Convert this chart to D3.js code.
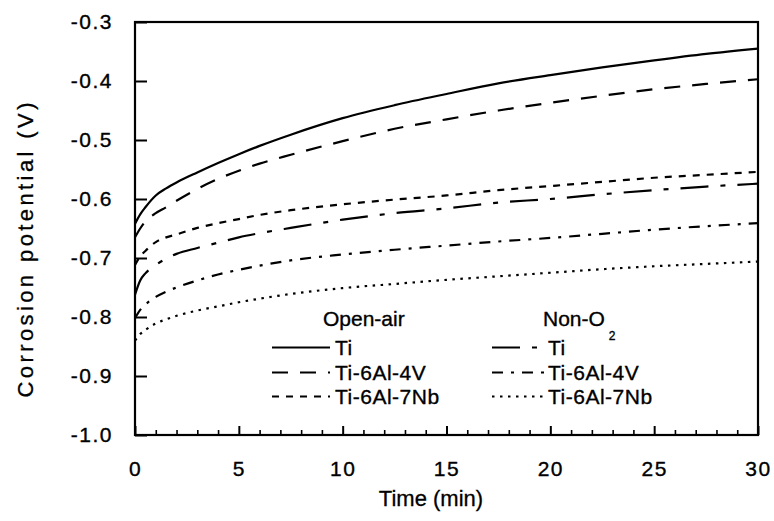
<!DOCTYPE html>
<html>
<head>
<meta charset="utf-8">
<script src="https://cdn.jsdelivr.net/npm/d3@7"></script>
<style>
  html, body { margin: 0; padding: 0; background: #fff; }
  svg { display: block; font-family: "Liberation Sans", Arial, Helvetica, sans-serif; }
</style>
</head>
<body>
<svg id="chart" width="774" height="521"></svg>
<script>
// Sampling times (min), shared by every curve
const time = [0, 0.25, 0.5, 1, 1.5, 2, 3, 4, 5, 6, 7.5, 10, 12.5, 15, 17.5, 20, 22.5, 25, 27.5, 30];

// Corrosion potential (V), open-air
const tiOpenAir      = [-0.642, -0.626, -0.614, -0.594, -0.582, -0.572, -0.555, -0.539, -0.524, -0.510, -0.491, -0.463, -0.441, -0.422, -0.404, -0.390, -0.377, -0.365, -0.354, -0.345];
const ti6al4vOpenAir = [-0.665, -0.650, -0.638, -0.624, -0.614, -0.603, -0.583, -0.566, -0.552, -0.540, -0.525, -0.502, -0.481, -0.465, -0.450, -0.437, -0.425, -0.414, -0.405, -0.397];
const ti6al7nbOpenAir= [-0.712, -0.697, -0.688, -0.673, -0.665, -0.660, -0.649, -0.641, -0.634, -0.627, -0.619, -0.609, -0.601, -0.594, -0.585, -0.578, -0.571, -0.564, -0.559, -0.554];

// Corrosion potential (V), non-O2
const tiNonO2        = [-0.762, -0.738, -0.726, -0.712, -0.701, -0.693, -0.683, -0.674, -0.665, -0.658, -0.649, -0.635, -0.624, -0.616, -0.606, -0.600, -0.592, -0.585, -0.579, -0.574];
const ti6al4vNonO2   = [-0.802, -0.788, -0.779, -0.766, -0.757, -0.750, -0.738, -0.728, -0.720, -0.713, -0.704, -0.694, -0.686, -0.679, -0.672, -0.666, -0.659, -0.652, -0.646, -0.641];
const ti6al7nbNonO2  = [-0.840, -0.829, -0.822, -0.811, -0.804, -0.798, -0.789, -0.782, -0.775, -0.769, -0.761, -0.751, -0.744, -0.737, -0.731, -0.725, -0.719, -0.714, -0.710, -0.706];

const alloyNames = ["Ti", "Ti-6Al-4V", "Ti-6Al-7Nb"];
const groupNames = ["Open-air", "Non-O"];

const xTicks = [0, 5, 10, 15, 20, 25, 30];
const xTickLabels = ["0", "5", "10", "15", "20", "25", "30"];
const yTicks = [-1.0, -0.9, -0.8, -0.7, -0.6, -0.5, -0.4, -0.3];
const yTickLabels = ["-1.0", "-0.9", "-0.8", "-0.7", "-0.6", "-0.5", "-0.4", "-0.3"];

// ---- layout ----
const svgW = 774, svgH = 521;
const margin = { left: 135, right: 16, top: 22, bottom: 86 };
const W = svgW - margin.left - margin.right;
const H = svgH - margin.top - margin.bottom;

const svg = d3.select("#chart");
svg.append("rect").attr("width", svgW).attr("height", svgH).attr("fill", "#fff");
const g = svg.append("g").attr("transform", `translate(${margin.left},${margin.top})`);

const x = d3.scaleLinear().domain([0, 30]).range([0, W]);
const y = d3.scaleLinear().domain([-1.0, -0.3]).range([H, 0]);

// ---- axes (ticks point into the plot) ----
const labelStyle = sel => sel.selectAll("text")
  .attr("font-size", 21)
  .attr("fill", "#000")
  .attr("stroke", "#000")
  .attr("stroke-width", 0.35)
  .style("letter-spacing", "1.5px")
  .style("font-family", '"Liberation Sans", Arial, Helvetica, sans-serif');

const xAxis = g.append("g")
  .attr("transform", `translate(0,${H})`)
  .call(d3.axisBottom(x).tickValues(xTicks).tickFormat((d, i) => xTickLabels[i])
    .tickSizeInner(-9).tickSizeOuter(0).tickPadding(26));
xAxis.select(".domain").remove();
xAxis.selectAll("line").attr("stroke", "#000").attr("stroke-width", 2);
labelStyle(xAxis);

const minorTicks = d3.range(0, 31).filter(v => v % 5 !== 0);
const xMinor = g.append("g")
  .attr("transform", `translate(0,${H})`)
  .call(d3.axisBottom(x).tickValues(minorTicks).tickFormat("").tickSizeInner(-5).tickSizeOuter(0));
xMinor.select(".domain").remove();
xMinor.selectAll("line").attr("stroke", "#000").attr("stroke-width", 1.6);

const yAxis = g.append("g")
  .call(d3.axisLeft(y).tickValues(yTicks).tickFormat((d, i) => yTickLabels[i])
    .tickSizeInner(-12).tickSizeOuter(0).tickPadding(22));
yAxis.select(".domain").remove();
yAxis.selectAll("line").attr("stroke", "#000").attr("stroke-width", 2);
labelStyle(yAxis);

// plot frame
g.append("rect")
  .attr("x", 0).attr("y", 0).attr("width", W).attr("height", H)
  .attr("fill", "none").attr("stroke", "#000").attr("stroke-width", 2.2);

// ---- axis titles ----
svg.append("text")
  .attr("transform", "translate(33,250) rotate(-90)")
  .attr("text-anchor", "middle")
  .attr("font-size", 22)
  .attr("textLength", 295)
  .attr("lengthAdjust", "spacing")
  .attr("stroke", "#000").attr("stroke-width", 0.3)
  .text("Corrosion potential (V)");

svg.append("text")
  .attr("x", 431).attr("y", 506)
  .attr("text-anchor", "middle")
  .attr("font-size", 22)
  .attr("stroke", "#000").attr("stroke-width", 0.3)
  .text("Time (min)");

// ---- curves ----
const series = [
  { values: tiOpenAir,       dash: null },
  { values: ti6al4vOpenAir,  dash: "16,12" },
  { values: ti6al7nbOpenAir, dash: "7,7" },
  { values: tiNonO2,         dash: "28,12,5,12" },
  { values: ti6al4vNonO2,    dash: "11,8,3,8" },
  { values: ti6al7nbNonO2,   dash: "2.5,5.5" }
];

const line = d3.line()
  .x(d => x(d[0]))
  .y(d => y(d[1]))
  .curve(d3.curveMonotoneX);

g.selectAll("path.curve")
  .data(series)
  .enter().append("path")
  .attr("class", "curve")
  .attr("d", s => line(time.map((t, i) => [t, s.values[i]])))
  .attr("fill", "none")
  .attr("stroke", "#000")
  .attr("stroke-width", 2.2)
  .attr("stroke-dasharray", s => s.dash);

// ---- legend ----
const legend = svg.append("g").attr("font-size", 21);
const legendCols = [
  { header: groupNames[0], headerX: 323, lineX0: 272, lineX1: 330, textX: 335, items: series.slice(0, 3) },
  { header: groupNames[1], headerX: 543, lineX0: 492, lineX1: 545, textX: 548, items: series.slice(3, 6) }
];
const headerY = 326;
const rowY = [355, 380, 404];

legendCols.forEach((col, c) => {
  const h = legend.append("text")
    .attr("x", col.headerX).attr("y", headerY)
    .attr("stroke", "#000").attr("stroke-width", 0.35)
    .text(col.header);
  if (c === 1) {
    h.append("tspan").attr("font-size", 12).attr("dx", 4).attr("dy", 14).text("2");
  }
  col.items.forEach((s, i) => {
    legend.append("line")
      .attr("x1", col.lineX0).attr("x2", col.lineX1)
      .attr("y1", rowY[i] - 7.5).attr("y2", rowY[i] - 7.5)
      .attr("stroke", "#000").attr("stroke-width", 2)
      .attr("stroke-dasharray", s.dash);
    legend.append("text")
      .attr("x", col.textX).attr("y", rowY[i])
      .attr("stroke", "#000").attr("stroke-width", 0.35)
      .style("letter-spacing", "0.5px")
      .text(alloyNames[i]);
  });
});
</script>
</body>
</html>
